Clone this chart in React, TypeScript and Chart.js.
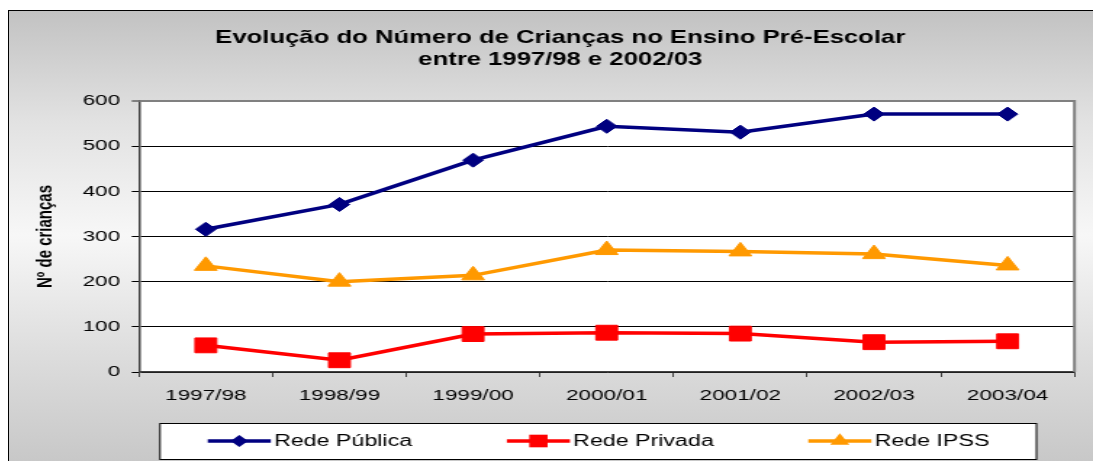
import React, { useEffect, useRef } from "react";
import { Chart, registerables } from "chart.js";

Chart.register(...registerables);

// ---------- data ----------
const categories = ["1997/98", "1998/99", "1999/00", "2000/01", "2001/02", "2002/03", "2003/04"];
const redePublica = [316, 371, 469, 544, 531, 571, 571];
const redePrivada = [59, 26, 84, 87, 85, 66, 68];
const redeIPSS = [235, 200, 214, 270, 267, 261, 236];
const seriesNames = ["Rede Pública", "Rede Privada", "Rede IPSS"];
const titleLines = ["Evolução do Número de Crianças no Ensino Pré-Escolar", "entre 1997/98 e 2002/03"];
const yAxisTitle = "Nº de crianças";
const yMin = 0;
const yMax = 600;
const yStep = 100;

// ---------- layout (internal canvas units; canvas is stretched horizontally by CSS) ----------
const FAMILY = "'Liberation Sans', Arial, sans-serif";
const CW = 748;
const CH = 451;
const CSS_W = 1085;
const PLOT_LEFT = 90.3;
const PLOT_RIGHT = 735.2;
const PLOT_TOP = 91;
const PLOT_BOTTOM = 362;
const X_AXIS_H = 40;

function drawMarker(ctx: CanvasRenderingContext2D, style: string, x: number, y: number, r: number) {
  ctx.beginPath();
  if (style === "rectRot") {
    ctx.moveTo(x, y - r);
    ctx.lineTo(x + r, y);
    ctx.lineTo(x, y + r);
    ctx.lineTo(x - r, y);
  } else if (style === "rect") {
    const s = r * Math.SQRT1_2;
    ctx.rect(x - s, y - s, 2 * s, 2 * s);
  } else {
    ctx.moveTo(x, y - r);
    ctx.lineTo(x + 0.866 * r, y + 0.5 * r);
    ctx.lineTo(x - 0.866 * r, y + 0.5 * r);
  }
  ctx.closePath();
  ctx.fill();
}

const plotBgPlugin = {
  id: "plotBg",
  beforeDraw(chart: any) {
    const { ctx, chartArea: a } = chart;
    ctx.save();
    ctx.fillStyle = "#ffffff";
    ctx.fillRect(a.left, a.top, a.right - a.left, a.bottom - a.top);
    ctx.restore();
  },
  beforeDatasetsDraw(chart: any) {
    const { ctx, chartArea: a } = chart;
    ctx.save();
    ctx.strokeStyle = "#808080";
    ctx.lineWidth = 2;
    ctx.beginPath();
    ctx.moveTo(a.left, a.top);
    ctx.lineTo(a.right, a.top);
    ctx.lineTo(a.right, a.bottom);
    ctx.stroke();
    ctx.restore();
  },
};

const titlePlugin = {
  id: "twoLineTitle",
  afterDraw(chart: any) {
    const ctx = chart.ctx;
    ctx.save();
    ctx.fillStyle = "#000";
    ctx.font = `bold 17.7px ${FAMILY}`;
    ctx.textAlign = "center";
    ctx.textBaseline = "middle";
    ctx.fillText(titleLines[0], 380.7, 28);
    ctx.fillText(titleLines[1], 380.7, 50);
    ctx.restore();
  },
};

const boxLegendPlugin = {
  id: "boxLegend",
  afterDraw(chart: any) {
    const ctx = chart.ctx;
    ctx.save();
    ctx.fillStyle = "#ffffff";
    ctx.fillRect(104.8, 413, 604.2, 36);
    ctx.strokeStyle = "#000";
    ctx.lineWidth = 1;
    ctx.strokeRect(104.8, 413.5, 604.2, 36);
    const starts = [137.7, 343.9, 551.7];
    const y = 431;
    chart.data.datasets.forEach((ds: any, i: number) => {
      const x0 = starts[i];
      ctx.strokeStyle = ds.borderColor;
      ctx.lineWidth = 3.5;
      ctx.beginPath();
      ctx.moveTo(x0, y);
      ctx.lineTo(x0 + 43.5, y);
      ctx.stroke();
      ctx.fillStyle = ds.borderColor;
      drawMarker(ctx, ds.pointStyle, x0 + 21.75, y, ds.pointRadius * 0.85);
      ctx.fillStyle = "#000";
      ctx.font = `16px ${FAMILY}`;
      ctx.textAlign = "left";
      ctx.textBaseline = "middle";
      ctx.fillText(ds.label, x0 + 45.7, y + 1);
    });
    ctx.restore();
  },
};

export default function App() {
  const ref = useRef<HTMLCanvasElement>(null);

  useEffect(() => {
    if (!ref.current) return;
    const chart = new Chart(ref.current, {
      type: "line",
      data: {
        labels: categories,
        datasets: [
          {
            label: seriesNames[0],
            data: redePublica,
            borderColor: "#000080",
            backgroundColor: "#000080",
            borderWidth: 3.5,
            pointStyle: "rectRot",
            pointRadius: 7,
            pointBorderWidth: 1,
            pointBackgroundColor: "#000080",
            pointBorderColor: "#000080",
            tension: 0,
          },
          {
            label: seriesNames[1],
            data: redePrivada,
            borderColor: "#ff0000",
            backgroundColor: "#ff0000",
            borderWidth: 3.5,
            pointStyle: "rect",
            pointRadius: 10.5,
            pointBorderWidth: 1,
            pointBackgroundColor: "#ff0000",
            pointBorderColor: "#ff0000",
            tension: 0,
          },
          {
            label: seriesNames[2],
            data: redeIPSS,
            borderColor: "#ff9900",
            backgroundColor: "#ff9900",
            borderWidth: 3.5,
            pointStyle: "triangle",
            pointRadius: 9,
            pointBorderWidth: 1,
            pointBackgroundColor: "#ff9900",
            pointBorderColor: "#ff9900",
            tension: 0,
          },
        ],
      },
      options: {
        responsive: false,
        animation: false,
        devicePixelRatio: 1,
        layout: {
          padding: {
            left: 0,
            right: CW - PLOT_RIGHT,
            top: PLOT_TOP,
            bottom: CH - PLOT_BOTTOM - X_AXIS_H,
          },
        },
        plugins: {
          legend: { display: false },
          title: { display: false },
          tooltip: { enabled: false },
        },
        scales: {
          x: {
            type: "category",
            offset: true,
            grid: {
              offset: true,
              drawOnChartArea: false,
              drawTicks: true,
              tickLength: 5,
              color: "#404040",
              lineWidth: 1,
            },
            border: { display: true, color: "#404040", width: 1.5 },
            ticks: {
              font: { family: FAMILY, size: 15.5 },
              color: "#000",
              padding: 9,
              maxRotation: 0,
              autoSkip: false,
            },
            afterFit: (s: any) => {
              s.height = X_AXIS_H;
            },
          },
          y: {
            min: yMin,
            max: yMax,
            ticks: {
              stepSize: yStep,
              font: { family: FAMILY, size: 15.5 },
              color: "#000",
              padding: 8,
            },
            grid: {
              color: (c: any) => (c.tick && c.tick.value === yMax ? "#808080" : "#000000"),
              lineWidth: (c: any) => (c.tick && c.tick.value === yMax ? 2 : 1),
              tickLength: 5,
              drawTicks: true,
            },
            border: { display: true, color: "#404040", width: 1.5 },
            title: {
              display: true,
              text: yAxisTitle,
              color: "#000",
              font: { family: FAMILY, size: 15, weight: "bold" },
              padding: { top: 16.5, bottom: 0 },
            },
            afterFit: (s: any) => {
              s.width = PLOT_LEFT;
            },
          },
        },
      },
      plugins: [plotBgPlugin, titlePlugin, boxLegendPlugin],
    } as any);
    return () => chart.destroy();
  }, []);

  return (
    <div
      style={{
        position: "fixed",
        left: 8,
        top: 10,
        width: CSS_W,
        height: CH,
        background: "linear-gradient(to bottom, #c2c2c2 0%, #e2e2e2 25%, #f7f7f7 50%, #dedede 75%, #c8c8c8 100%)",
        boxShadow: "inset 1px 1px 0 #000",
      }}
    >
      <canvas
        ref={ref}
        width={CW}
        height={CH}
        style={{ width: `${CSS_W}px`, height: `${CH}px`, display: "block" }}
      />
    </div>
  );
}
